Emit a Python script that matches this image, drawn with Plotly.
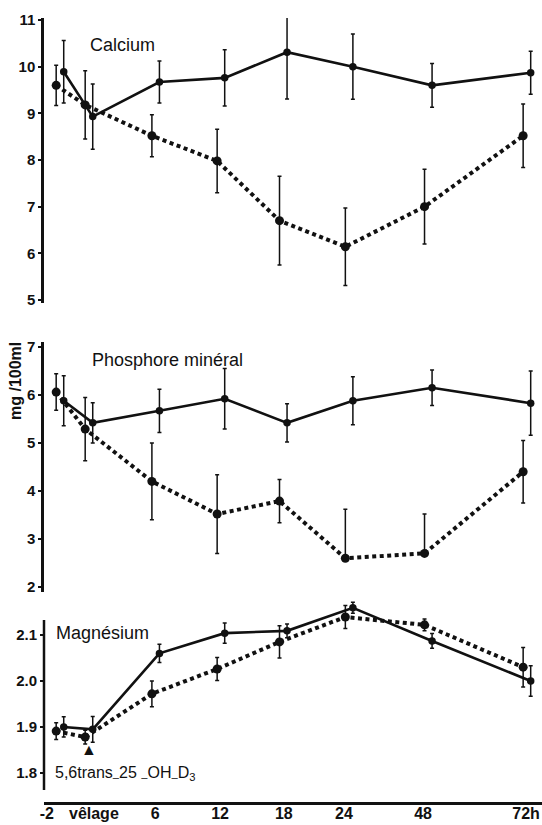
import plotly.graph_objects as go

# ---------------- data ----------------
times = ["-2", "vêlage", "6", "12", "18", "24", "48", "72h"]

ca_solid = [9.89, 8.93, 9.67, 9.76, 10.31, 10.0, 9.6, 9.87]
ca_solid_err = [0.67, 0.70, 0.45, 0.60, 1.00, 0.70, 0.47, 0.46]
ca_dot = [9.6, 9.18, 8.52, 7.98, 6.7, 6.14, 7.0, 8.52]
ca_dot_err = [0.43, 0.73, 0.45, 0.68, 0.95, 0.83, 0.80, 0.68]

p_solid = [5.88, 5.42, 5.67, 5.92, 5.42, 5.88, 6.15, 5.83]
p_solid_err = [0.52, 0.42, 0.45, 0.63, 0.40, 0.50, 0.37, 0.67]
p_dot = [6.06, 5.29, 4.2, 3.52, 3.79, 2.6, 2.7, 4.4]
p_dot_err_plus = [0.38, 0.66, 0.80, 0.82, 0.45, 1.02, 0.82, 0.65]
p_dot_err_minus = [0.38, 0.66, 0.80, 0.82, 0.45, 0.0, 0.0, 0.65]

mg_solid = [1.90, 1.895, 2.06, 2.104, 2.109, 2.159, 2.087, 2.0]
mg_solid_err = [0.022, 0.028, 0.020, 0.022, 0.015, 0.012, 0.016, 0.033]
mg_dot = [1.891, 1.878, 1.972, 2.026, 2.085, 2.139, 2.122, 2.03]
mg_dot_err = [0.018, 0.015, 0.028, 0.025, 0.035, 0.025, 0.013, 0.043]

ca_ticks = [5, 6, 7, 8, 9, 10, 11]
p_ticks = [2, 3, 4, 5, 6, 7]
mg_ticks = [1.8, 1.9, 2.0, 2.1]
mg_ticktext = ["1.8", "1.9", "2.0", "2.1"]

# ---------------- non-linear time axis scale ----------------
time_scale = [0.0, 1.0, 3.3, 5.55, 7.7, 9.97, 12.7, 16.1]
label_scale = [-0.45, 1.17, 3.28, 5.52, 7.72, 9.79, 12.52, 16.07]
pos = dict(zip(times, time_scale))
dodge = 0.13
x_dot = [pos[t] - dodge for t in times]
x_solid = [pos[t] + dodge for t in times]

INK = "#111111"
FONT = "Liberation Sans, Arial, sans-serif"

fig = go.Figure()


def add_pair(yref, ysolid, esolid, ydot, edot_plus, edot_minus):
    fig.add_trace(go.Scatter(
        x=x_dot, y=ydot, xaxis="x", yaxis=yref, mode="lines+markers",
        line=dict(color=INK, width=4, dash="4px,3.5px"),
        marker=dict(color=INK, size=9),
        error_y=dict(type="data", array=edot_plus, arrayminus=edot_minus,
                     symmetric=False, color=INK, thickness=1.5, width=2),
        showlegend=False, cliponaxis=False))
    fig.add_trace(go.Scatter(
        x=x_solid, y=ysolid, xaxis="x", yaxis=yref, mode="lines+markers",
        line=dict(color=INK, width=2.6),
        marker=dict(color=INK, size=7.5),
        error_y=dict(type="data", array=esolid, color=INK, thickness=1.5, width=2),
        showlegend=False, cliponaxis=False))


add_pair("y", ca_solid, ca_solid_err, ca_dot, ca_dot_err, ca_dot_err)
add_pair("y2", p_solid, p_solid_err, p_dot, p_dot_err_plus, p_dot_err_minus)
add_pair("y3", mg_solid, mg_solid_err, mg_dot, mg_dot_err, mg_dot_err)

H = 825.0


def dom(top_px, bot_px):
    return [(H - bot_px) / H, (H - top_px) / H]


yaxis_common = dict(
    showgrid=False, zeroline=False, linecolor=INK, linewidth=2.5,
    ticks="outside", ticklen=3, tickwidth=1.5, tickcolor=INK,
    tickfont=dict(family=FONT, size=15, color=INK, weight="bold"),
    anchor="x", fixedrange=True, automargin=False,
)

MG_LO, MG_AXIS_TOP = 1.763, 2.1326

fig.update_layout(
    width=542, height=825,
    margin=dict(l=44, r=0, t=0, b=0, autoexpand=False),
    paper_bgcolor="white", plot_bgcolor="white",
    xaxis=dict(
        range=[-0.55, 16.62], domain=[0, 1], anchor="free", position=(H - 803) / H,
        showgrid=False, zeroline=False, showline=True, linecolor=INK, linewidth=2.5,
        tickmode="array", tickvals=label_scale, ticktext=times, ticks="",
        tickangle=0, automargin=False, fixedrange=True, ticklabelstandoff=-5,
        tickfont=dict(family=FONT, size=16, color=INK, weight="bold"),
    ),
    yaxis=dict(domain=dom(18, 303), range=[4.936, 11.043], tickvals=ca_ticks,
               showline=True, **yaxis_common),
    yaxis2=dict(domain=dom(342, 592), range=[1.896, 7.104], tickvals=p_ticks,
                showline=True, **yaxis_common),
    yaxis3=dict(domain=dom(598, 790), range=[MG_LO, 2.1804], tickvals=mg_ticks,
                ticktext=mg_ticktext, showline=False, **yaxis_common),
)

# Magnesium axis line stops below the highest points, as in the original
fig.add_shape(type="line", xref="paper", yref="y3", x0=0, x1=0, y0=MG_LO, y1=MG_AXIS_TOP,
              line=dict(color=INK, width=2.5), layer="above")

label_font = dict(family=FONT, size=18, color=INK)
fig.add_annotation(x=2.14, y=10.46, xref="x", yref="y", text="Calcium",
                   showarrow=False, font=label_font)
fig.add_annotation(x=3.72, y=6.73, xref="x", yref="y2", text="Phosphore minéral",
                   showarrow=False, font=label_font)
fig.add_annotation(x=1.45, y=2.104, xref="x", yref="y3", text="Magnésium",
                   showarrow=False, font=label_font)
fig.add_annotation(x=2.25, y=1.798, xref="x", yref="y3",
                   text="5,6trans<sub>–</sub>25 <sub>–</sub>OH<sub>–</sub>D<sub>3</sub>",
                   showarrow=False, font=dict(family=FONT, size=16, color=INK))
fig.add_annotation(x=pos["vêlage"], y=1.85, xref="x", yref="y3", text="▲",
                   showarrow=False, font=dict(family=FONT, size=16, color=INK))
fig.add_annotation(x=-29 / 498, y=(H - 381) / H, xref="paper", yref="paper",
                   xanchor="center", yanchor="middle",
                   text="<b>mg /100ml</b>", textangle=-90, showarrow=False,
                   font=dict(family=FONT, size=16, color=INK))

fig.write_html("out.html", config={"displayModeBar": False},
               post_script="document.body.style.margin='0';document.body.style.overflow='hidden';")
